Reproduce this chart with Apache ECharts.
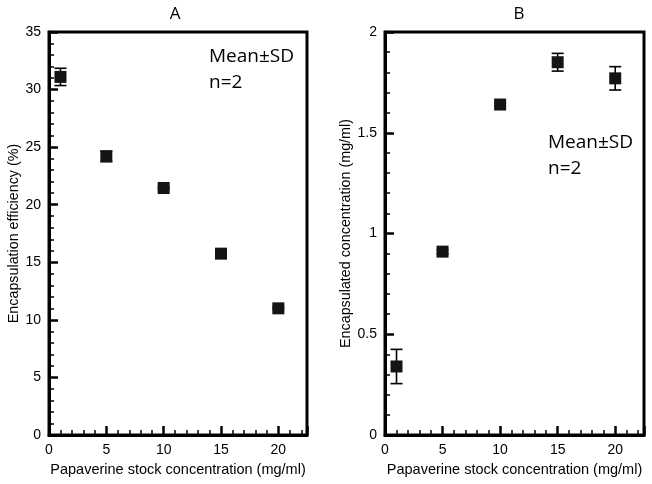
<!DOCTYPE html>
<html><head><meta charset="utf-8">
<script src="https://cdn.jsdelivr.net/npm/echarts@6/dist/echarts.min.js"></script>
<style>html,body{margin:0;padding:0;background:#fff}#c{width:652px;height:484px}</style>
</head><body><div id="c"></div>
<script>
// ---- data ----
const concA = [1, 5, 10, 15, 20];
const effMean = [31.1, 24.2, 21.45, 15.75, 11.0];
const effSD = [0.75, 0.45, 0.1, 0.1, 0.1];
const concB = [1, 5, 10, 15, 20];
const encMean = [0.34, 0.91, 1.64, 1.85, 1.77];
const encSD = [0.085, 0.01, 0.01, 0.044, 0.058];
const xAxisName = 'Papaverine stock concentration (mg/ml)';
const yNameA = 'Encapsulation efficiency (%)';
const yNameB = 'Encapsulated concentration (mg/ml)';
const panelTitles = ['A', 'B'];
const noteLines = ['Mean±SD', 'n=2'];

const F = '"Liberation Sans", Arial, Helvetica, sans-serif';
const F2 = '"Open Sans", "Noto Sans", sans-serif';

function xAx(gi) {
  return {
    type: 'value', gridIndex: gi, min: 0, max: 22.5, interval: 5,
    name: xAxisName, nameLocation: 'middle', nameGap: 27,
    nameTextStyle: { fontFamily: F, fontSize: 14.5, color: '#000' },
    axisLine: { show: true, onZero: false, lineStyle: { color: '#000', width: 3 } },
    axisTick: { show: true, inside: true, length: 9, lineStyle: { color: '#000', width: 2.5 } },
    minorTick: { show: true, splitNumber: 5, length: 5, lineStyle: { color: '#000', width: 1.5 } },
    axisLabel: { margin: 8, fontFamily: F, fontSize: 14, color: '#000',
      formatter: v => (Math.abs(v % 5) < 1e-9 ? String(v) : '') },
    splitLine: { show: false }, minorSplitLine: { show: false }
  };
}
function yAx(gi, max, interval, name, gap) {
  return {
    type: 'value', gridIndex: gi, min: 0, max: max, interval: interval,
    name: name, nameLocation: 'middle', nameGap: gap, nameRotate: 90,
    nameTextStyle: { fontFamily: F, fontSize: 14.3, color: '#000' },
    axisLine: { show: true, onZero: false, lineStyle: { color: '#000', width: 3 } },
    axisTick: { show: true, inside: true, length: 9, lineStyle: { color: '#000', width: 2.5 } },
    minorTick: { show: true, splitNumber: 5, length: 5, lineStyle: { color: '#000', width: 1.5 } },
    axisLabel: { margin: 8, fontFamily: F, fontSize: 14, color: '#000' },
    splitLine: { show: false }, minorSplitLine: { show: false }
  };
}

function errSeries(gi, xs, m, s) {
  return {
    type: 'custom', xAxisIndex: gi, yAxisIndex: gi, z: 3,
    data: xs.map((x, i) => [x, m[i] - s[i], m[i] + s[i]]),
    renderItem: function (params, api) {
      const lo = api.coord([api.value(0), api.value(1)]);
      const hi = api.coord([api.value(0), api.value(2)]);
      const w = 6;
      const st = { stroke: '#000', lineWidth: 1.6 };
      return { type: 'group', children: [
        { type: 'line', shape: { x1: lo[0], y1: lo[1], x2: hi[0], y2: hi[1] }, style: st },
        { type: 'line', shape: { x1: lo[0] - w, y1: lo[1], x2: lo[0] + w, y2: lo[1] }, style: st },
        { type: 'line', shape: { x1: hi[0] - w, y1: hi[1], x2: hi[0] + w, y2: hi[1] }, style: st }
      ] };
    }
  };
}
function ptSeries(gi, xs, m) {
  return {
    type: 'scatter', xAxisIndex: gi, yAxisIndex: gi, z: 4,
    symbol: 'rect', symbolSize: 12,
    itemStyle: { color: '#141414', opacity: 1 },
    emphasis: { disabled: true },
    data: xs.map((x, i) => [x, m[i]])
  };
}

const chart = echarts.init(document.getElementById('c'), null, { renderer: 'canvas' });
chart.setOption({
  animation: false,
  backgroundColor: '#fff',
  grid: [
    { left: 49, top: 32, width: 258, height: 403, show: true, borderColor: '#000', borderWidth: 3, backgroundColor: 'transparent' },
    { left: 385, top: 32, width: 259, height: 403, show: true, borderColor: '#000', borderWidth: 3, backgroundColor: 'transparent' }
  ],
  xAxis: [xAx(0), xAx(1)],
  yAxis: [yAx(0, 35, 5, yNameA, 28), yAx(1, 2, 0.5, yNameB, 32)],
  series: [
    errSeries(0, concA, effMean, effSD), ptSeries(0, concA, effMean),
    errSeries(1, concB, encMean, encSD), ptSeries(1, concB, encMean)
  ],
  graphic: [
    { type: 'text', x: 175, y: 14, style: { text: panelTitles[0], font: '17px ' + F2, fill: '#000', textAlign: 'center', textVerticalAlign: 'middle' } },
    { type: 'text', x: 519, y: 14, style: { text: panelTitles[1], font: '17px ' + F2, fill: '#000', textAlign: 'center', textVerticalAlign: 'middle' } },
    { type: 'text', x: 209, y: 57, style: { text: noteLines[0], font: '19px ' + F2, fill: '#000', textVerticalAlign: 'middle' } },
    { type: 'text', x: 209, y: 83, style: { text: noteLines[1], font: '19px ' + F2, fill: '#000', textVerticalAlign: 'middle' } },
    { type: 'text', x: 548, y: 143, style: { text: noteLines[0], font: '19px ' + F2, fill: '#000', textVerticalAlign: 'middle' } },
    { type: 'text', x: 548, y: 169, style: { text: noteLines[1], font: '19px ' + F2, fill: '#000', textVerticalAlign: 'middle' } }
  ]
});
</script></body></html>
